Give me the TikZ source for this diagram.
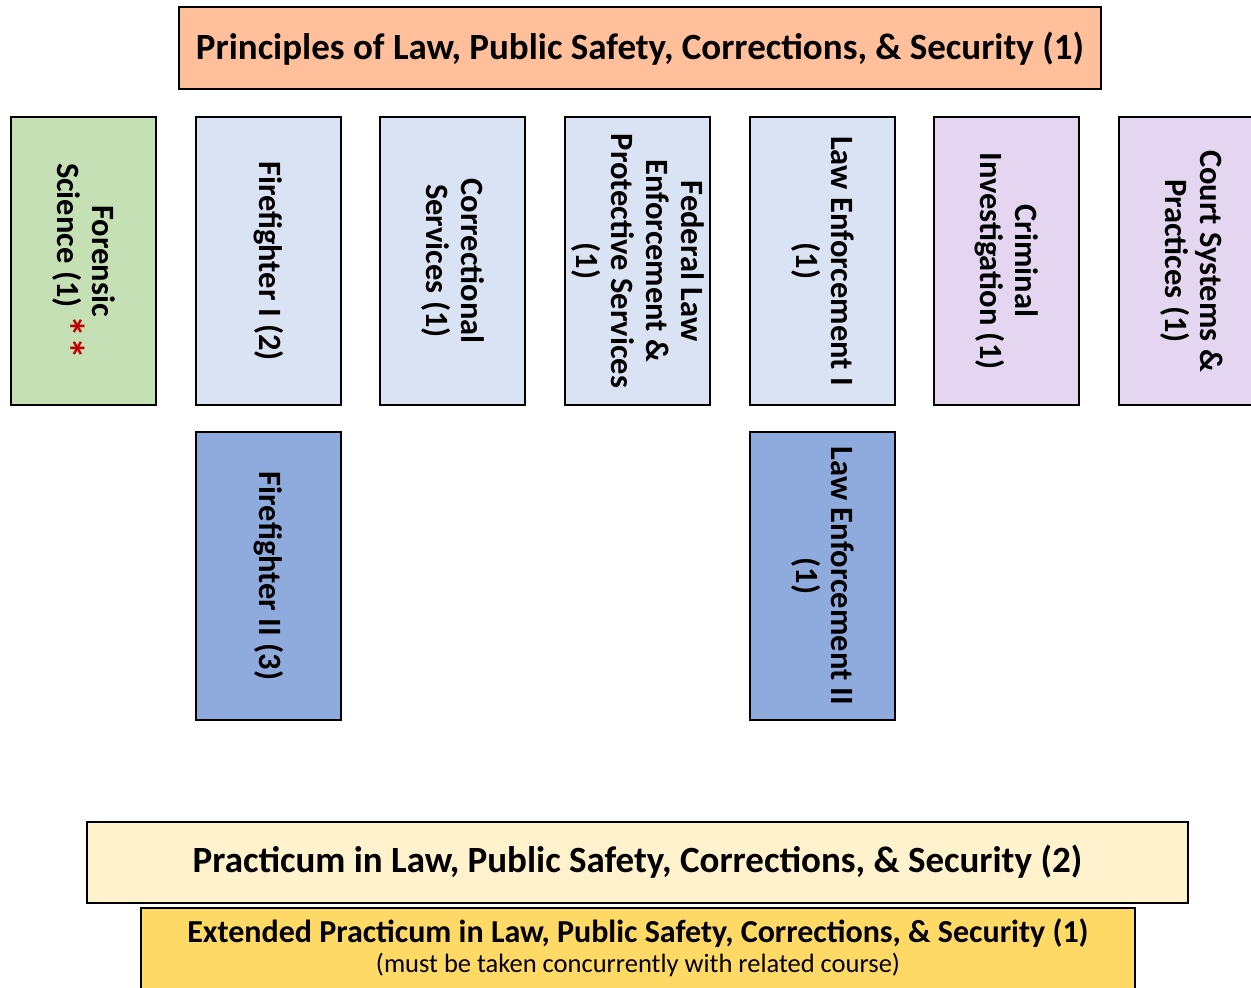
\documentclass[tikz,border=0pt]{standalone}
\usepackage{fontspec}
\setmainfont{Carlito}
\definecolor{peach}{HTML}{FFBF9B}
\definecolor{fgreen}{HTML}{C5E0B4}
\definecolor{lblue}{HTML}{DAE3F3}
\definecolor{lpurple}{HTML}{E4D6F1}
\definecolor{dblue}{HTML}{8FAADC}
\definecolor{cream}{HTML}{FFF2CC}
\definecolor{gold}{HTML}{FFD966}
\definecolor{astred}{HTML}{C00000}
\begin{document}
\begin{tikzpicture}[x=1pt,y=-1pt,
  hbox/.style={draw=black, line width=1.6pt, inner sep=0pt},
  vbox/.style={draw=black, line width=1.6pt, rotate=-90, minimum width=288pt, minimum height=145pt,
    align=center, inner sep=0pt, font=\fontsize{32.5}{35}\selectfont\bfseries},
  lbl/.style={inner sep=0pt, align=center, anchor=base}
]
\useasboundingbox (0,0) rectangle (1251,988);
\node[hbox, fill=peach, minimum width=922pt, minimum height=82pt] (title) at (640,48) {};
\node[lbl, font=\fontsize{37}{44}\selectfont\bfseries] (titlet) at (title.center |- 0,59.5) {Principles of Law, Public Safety, Corrections, \& Security (1)};

\node[vbox, fill=fgreen] (fs) at (83.5,261) {Forensic\\Science (1) \textcolor{astred}{\raisebox{-0.12em}{\fontsize{44}{35}\selectfont**}}};
\node[vbox, fill=lblue] (ff1) at (268.5,261) {Firefighter I (2)};
\node[vbox, fill=lblue] (cs) at (452.5,261) {Correctional\\Services (1)};
\node[vbox, fill=lblue] (fl) at (637.5,261) {Federal Law\\Enforcement \&\\Protective Services\\(1)};
\node[vbox, fill=lblue] (le1) at (822.5,261) {Law Enforcement I\\(1)};
\node[vbox, fill=lpurple] (ci) at (1006.5,261) {Criminal\\Investigation (1)};
\node[vbox, fill=lpurple] (ct) at (1191.5,261) {Court Systems \&\\Practices (1)};

\node[vbox, fill=dblue] (ff2) at (268.5,576) {Firefighter II (3)};
\node[vbox, fill=dblue] (le2) at (822.5,576) {Law Enforcement II\\(1)};

\node[hbox, fill=cream, minimum width=1101pt, minimum height=81pt] (prac) at (637.5,862.5) {};
\node[lbl, font=\fontsize{37}{44}\selectfont\bfseries] (pract) at (prac.center |- 0,872.5) {Practicum in Law, Public Safety, Corrections, \& Security (2)};

\node[hbox, fill=gold, minimum width=994pt, minimum height=86pt] (ext) at (638,951) {};
\node[lbl, font=\fontsize{32}{38}\selectfont\bfseries] (extt) at (ext.center |- 0,942) {Extended Practicum in Law, Public Safety, Corrections, \& Security (1)};
\node[lbl, font=\fontsize{26.5}{30}\selectfont] (extn) at (ext.center |- 0,972) {(must be taken concurrently with related course)};
\end{tikzpicture}
\end{document}
